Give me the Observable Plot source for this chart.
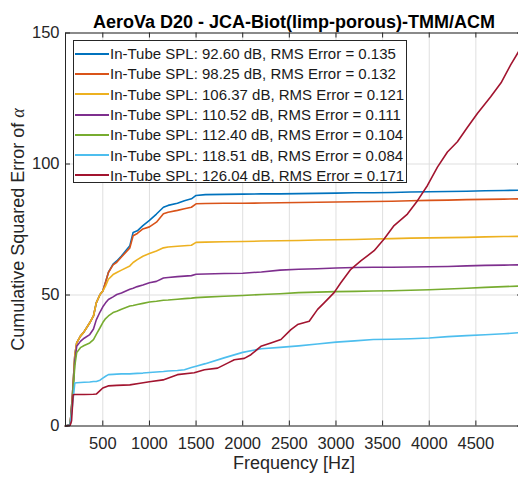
<!DOCTYPE html>
<html>
<head>
<meta charset="utf-8">
<script src="https://cdn.jsdelivr.net/npm/d3@7"></script>
<script src="https://cdn.jsdelivr.net/npm/@observablehq/plot@0.6"></script>
<style>
  body { margin: 0; background: #fff; overflow: hidden; }
  #wrap { position: relative; width: 518px; height: 480px; font-family: Arial, "Liberation Sans", sans-serif; color: #262626; }
  #wrap svg { position: absolute; left: 0; top: 0; max-width: none; }
  #legend { position: absolute; left: 73px; top: 40px; width: 334px; height: 143px; box-sizing: border-box;
            border: 1px solid #262626; background: #fff; }
  .lrow { position: absolute; left: 0; height: 20px; display: flex; align-items: center; }
  .lline { width: 34px; height: 0; border-top: 2px solid; margin-left: 1px; margin-right: 1px; }
  .ltext { font-size: 15px; white-space: nowrap; color: #1a1a1a; }
</style>
</head>
<body>
<div id="wrap"><div id="legend"></div></div>
<script>
// ---- data ----
const title = "AeroVa D20 - JCA-Biot(limp-porous)-TMM/ACM";
const xLabel = "Frequency [Hz]";
const yLabel = "Cumulative Squared Error of α";
const xTicks = [500, 1000, 1500, 2000, 2500, 3000, 3500, 4000, 4500];
const yTicks = [0, 50, 100, 150];

const seriesNames = [
  "In-Tube SPL: 92.60 dB, RMS Error = 0.135",
  "In-Tube SPL: 98.25 dB, RMS Error = 0.132",
  "In-Tube SPL: 106.37 dB, RMS Error = 0.121",
  "In-Tube SPL: 110.52 dB, RMS Error = 0.111",
  "In-Tube SPL: 112.40 dB, RMS Error = 0.104",
  "In-Tube SPL: 118.51 dB, RMS Error = 0.084",
  "In-Tube SPL: 126.04 dB, RMS Error = 0.171"
];
const seriesColors = ["#0072BD", "#D95319", "#EDB120", "#7E2F8E", "#77AC30", "#4DBEEE", "#A2142F"];

const freq = [100,150,175,200,220,260,300,360,400,430,470,500,530,560,610,650,700,790,825,870,930,1000,1075,1150,1200,1300,1375,1450,1500,1600,1800,2000,2200,2400,2600,2800,3000,3200,3400,3600,3800,4000,4200,4400,4600,4800,4960];

const spl92 = [0,0.5,12,27,31.7,34.3,36,39.4,42,47,50.2,51.5,55,58.6,61.8,63,64.9,68.8,73.9,74.5,76.5,78.5,80.9,83.5,84.2,85,86,86.7,88,88.3,88.4,88.5,88.6,88.6,88.7,88.8,88.9,89,89,89.1,89.3,89.4,89.5,89.6,89.8,89.9,90];
const spl98 = [0,0.5,12,27,31.7,34.3,36,39.4,42,47,50.2,51.5,55,58.6,61.5,62.5,64.5,68,72.6,73.5,75.2,76,77.8,81,81.6,82.3,82.9,83.5,84.8,84.9,85,85,85.1,85.2,85.3,85.4,85.5,85.6,85.7,85.8,86,86.1,86.2,86.4,86.5,86.6,86.7];
const spl106 = [0,0.5,12,27,31.7,34.3,36,39.4,42,47,50.2,51.5,53.5,56,57.8,58.6,59.5,61.1,62.4,63.5,64.8,65.8,66.8,68,68.3,68.6,68.8,69,70.1,70.2,70.3,70.4,70.6,70.7,70.8,71,71.1,71.2,71.4,71.5,71.7,71.8,71.9,72,72.2,72.3,72.4];
const spl110 = [0,0.5,11,25,30.4,32.3,33.5,34.9,37,40.5,43.5,45.5,47,48.3,49.3,50.2,50.8,52.2,52.6,53.2,53.8,54.7,55.2,56.5,56.7,57,57.2,57.4,57.9,58,58.2,58.3,58.8,59.5,59.8,60,60.3,60.5,60.6,60.6,60.7,60.8,60.9,61.1,61.3,61.4,61.5];
const spl112 = [0,0.5,10,23,28,29.9,30.7,31.7,33,35,37.5,39.5,41,42,43.3,43.8,44.6,45.8,46,46.4,46.8,47.3,47.6,48,48.1,48.4,48.6,48.8,49,49.2,49.5,49.8,50.2,50.5,50.9,51.1,51.3,51.4,51.5,51.6,51.8,52,52.3,52.6,52.9,53.2,53.4];
const spl118 = [0,0.5,8,16.4,16.5,16.6,16.7,16.8,17,17,17.5,18.3,19,19.6,19.7,19.8,19.9,19.9,20,20.1,20.2,20.4,20.6,20.8,21,21.2,21.5,22.3,22.8,23.8,26,28.1,29.5,30,30.6,31.3,32,32.5,33,33.1,33.3,33.6,34.1,34.5,34.8,35.2,35.6];

const freqRed = [100,150,165,182,200,300,400,430,470,500,557,650,790,900,1000,1146,1300,1480,1590,1731,1838,1910,2017,2088,2195,2302,2410,2517,2588,2713,2803,2873,2980,3052,3159,3266,3409,3516,3623,3766,3874,3981,4088,4195,4302,4410,4516,4659,4770,4873,4960];
const spl126 = [0,0.3,2,11.9,12,12,12.1,12.2,13.5,14.5,15.3,15.5,15.7,16.3,16.9,17.6,19.6,20.3,21.5,22.1,24,25.3,25.8,27.2,30.4,31.7,33,36.8,38.7,40,44.5,47,50.9,54.7,59.8,63,66.9,71.4,76.5,80.9,86,91.8,98.8,104.6,108.5,114,119.3,125.7,131,137.8,143];

const seriesX = [freq, freq, freq, freq, freq, freq, freqRed];
const seriesY = [spl92, spl98, spl106, spl110, spl112, spl118, spl126];

// ---- build ----
const axisColor = "#262626";
const gridColor = "#dfdfdf";
const lineMarks = seriesY.map((ys, k) =>
  Plot.line(ys.map((v, i) => ({f: seriesX[k][i], v})), {x: "f", y: "v", stroke: seriesColors[k], strokeWidth: 1.6})
);

const chart = Plot.plot({
  width: 518,
  height: 480,
  marginTop: 32.5,
  marginBottom: 54.5,
  marginLeft: 65,
  marginRight: -4,
  style: {fontFamily: "Arial, 'Liberation Sans', sans-serif", color: axisColor, background: "transparent", overflow: "visible"},
  x: {domain: [100, 5000]},
  y: {domain: [0, 150]},
  marks: [
    Plot.gridX(xTicks, {stroke: gridColor, strokeOpacity: 1}),
    Plot.gridY(yTicks, {stroke: gridColor, strokeOpacity: 1}),
    ...lineMarks,
    Plot.frame({stroke: axisColor}),
    Plot.ruleX(xTicks, {x: d => d, insetTop: 388, stroke: axisColor}),
    Plot.ruleX(xTicks, {x: d => d, insetBottom: 388, stroke: axisColor}),
    Plot.ruleY(yTicks, {y: d => d, insetRight: 452, stroke: axisColor}),
    Plot.ruleY(yTicks, {y: d => d, insetLeft: 452, stroke: axisColor}),
    Plot.axisX(xTicks, {tickSize: 0, tickPadding: 11, fontSize: 16.5, label: null, fill: axisColor, tickFormat: d => String(d)}),
    Plot.axisY(yTicks, {tickSize: 0, tickPadding: 6, fontSize: 16.5, label: null, fill: axisColor, tickFormat: d => String(d)}),
    Plot.text([title], {text: d => d, frameAnchor: "top", dy: -18, fontWeight: "bold", fontSize: 18, fill: "#000"}),
    Plot.text([xLabel], {text: d => d, frameAnchor: "bottom", dy: 43, fontSize: 18, fill: axisColor}),
    Plot.text([yLabel], {text: d => d, frameAnchor: "left", textAnchor: "middle", dx: -47, rotate: -90, fontSize: 18, fill: axisColor})
  ]
});

const wrap = document.getElementById("wrap");
wrap.insertBefore(chart, wrap.firstChild);

// italic serif alpha in the y label
chart.querySelectorAll("text").forEach(t => {
  if (t.textContent === yLabel) {
    t.textContent = yLabel.slice(0, -1);
    const ts = document.createElementNS("http://www.w3.org/2000/svg", "tspan");
    ts.setAttribute("font-family", "'Liberation Serif', 'Times New Roman', serif");
    ts.setAttribute("font-style", "italic");
    ts.textContent = yLabel.slice(-1);
    t.appendChild(ts);
  }
});

// legend
const legend = document.getElementById("legend");
seriesNames.forEach((name, i) => {
  const row = document.createElement("div");
  row.className = "lrow";
  row.style.top = (2.7 + i * 20.27) + "px";
  const ln = document.createElement("div");
  ln.className = "lline";
  ln.style.borderTopColor = seriesColors[i];
  const tx = document.createElement("span");
  tx.className = "ltext";
  tx.textContent = name;
  row.appendChild(ln);
  row.appendChild(tx);
  legend.appendChild(row);
});
</script>
</body>
</html>
